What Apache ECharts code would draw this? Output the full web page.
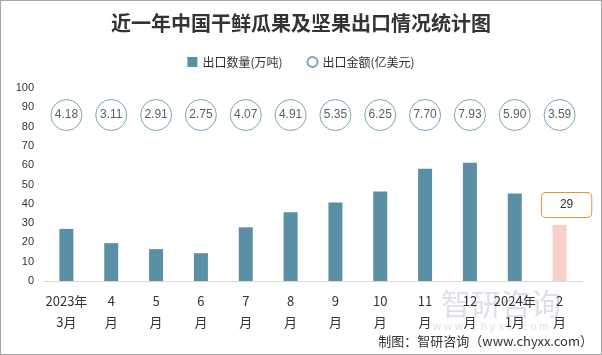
<!DOCTYPE html>
<html><head><meta charset="utf-8">
<script src="https://cdn.jsdelivr.net/npm/echarts@6/dist/echarts.min.js"></script>
<style>html,body{margin:0;padding:0;background:#fff}#c{width:600px;height:353px;border:1px solid #a6a6a6}</style>
</head><body><div id="c"></div>
<script>
var categories = ['2023年\n3月','4\n月','5\n月','6\n月','7\n月','8\n月','9\n月','10\n月','11\n月','12\n月','2024年\n1月','2\n月'];
var quantity = [27, 19.6, 16.5, 14.4, 27.8, 35.6, 40.7, 46.4, 58.2, 61.3, 45.4, 29];
var amount = ['4.18','3.11','2.91','2.75','4.07','4.91','5.35','6.25','7.70','7.93','5.90','3.59'];
var yTicks = {min: 0, max: 100, interval: 10};
var bubbleRow = 86;

var chart = echarts.init(document.getElementById('c'));
var barData = quantity.map(function(v, i){
  if (i === quantity.length - 1) {
    return {value: v, itemStyle: {color: '#f8d1c8'},
      label: {show: true, position: 'top', distance: 8, formatter: '{c}', color: '#333', fontSize: 12,
        backgroundColor: '#fff', borderColor: '#e8923c', borderWidth: 1, borderRadius: 4,
        padding: [6, 18, 6, 18], offset: [7, 0]}};
  }
  return v;
});
chart.setOption({
  animation: false,
  title: {text: '近一年中国干鲜瓜果及坚果出口情况统计图', left: 'center', top: 7,
    textStyle: {fontSize: 20, fontWeight: 'bold', color: '#333', fontFamily: 'Noto Sans CJK SC'}},
  legend: {top: 50, left: 'center', itemGap: 24, itemWidth: 10, itemHeight: 10,
    textStyle: {fontSize: 12, color: '#333', fontFamily: 'Noto Sans CJK SC'},
    data: [{name: '出口数量(万吨)', icon: 'rect'}, {name: '出口金额(亿美元)', icon: 'circle'}]},
  grid: {left: 43, right: 19, top: 87, bottom: 73},
  xAxis: {type: 'category', data: categories,
    axisLine: {lineStyle: {color: '#d9d9d9'}}, axisTick: {show: false},
    axisLabel: {color: '#333', fontSize: 13, lineHeight: 21, margin: 10, interval: 0, fontFamily: 'Noto Sans CJK SC'}},
  yAxis: {type: 'value', min: yTicks.min, max: yTicks.max, interval: yTicks.interval,
    axisLine: {show: false}, axisTick: {show: false}, splitLine: {show: false},
    axisLabel: {color: '#333', fontSize: 11, margin: 10}},
  series: [
    {name: '出口数量(万吨)', type: 'bar', barWidth: 14, data: barData, itemStyle: {color: '#5b8fa6'}},
    {name: '出口金额(亿美元)', type: 'scatter', symbol: 'circle', symbolSize: 31,
      data: amount.map(function(a){ return bubbleRow; }),
      itemStyle: {color: '#fff', borderColor: '#5b8fa6', borderWidth: 1},
      label: {show: true, position: 'inside', color: '#333', fontSize: 12,
        formatter: function(p){ return amount[p.dataIndex]; }}}
  ],
  graphic: [
    {type: 'text', left: 440, top: 288, z: -1, style: {text: '智研咨询', fontSize: 30, fill: '#dde0e8', fontFamily: 'Noto Sans CJK SC'}},
    {type: 'text', left: 432, top: 320, z: -1, style: {text: 'w w w . c h y x x . c o m', fontSize: 11, fill: '#dde0e8'}},
    {type: 'text', right: 8, top: 334, style: {text: '制图：智研咨询（www.chyxx.com）', fontSize: 13, fill: '#333', fontFamily: 'Noto Sans CJK SC'}}
  ]
});
</script></body></html>
